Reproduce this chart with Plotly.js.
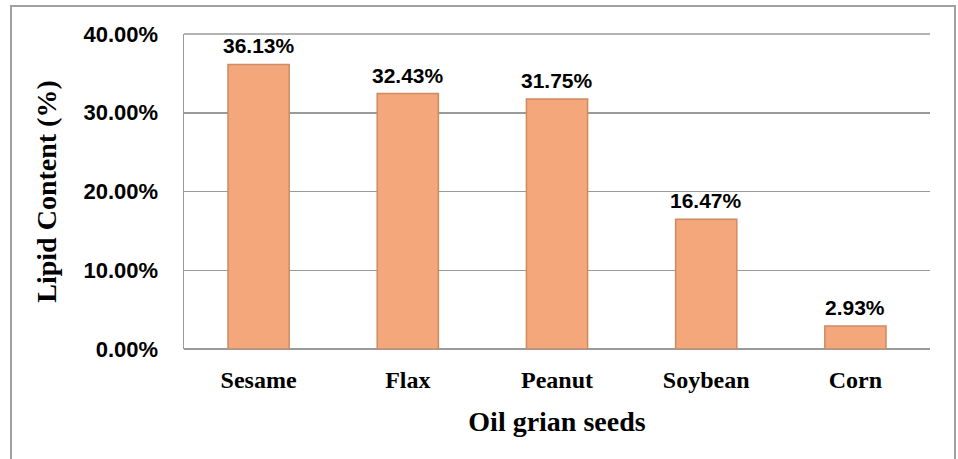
<!DOCTYPE html>
<html>
<head>
<meta charset="utf-8">
<script src="https://cdn.plot.ly/plotly-3.0.1.min.js"></script>
<style>html,body{margin:0;padding:0;background:#fff;}#chart{width:958px;height:459px;}</style>
</head>
<body>
<div id="chart"></div>
<script>
const categories = ["Sesame", "Flax", "Peanut", "Soybean", "Corn"];
const lipidContent = [0.3613, 0.3243, 0.3175, 0.1647, 0.0293];
const yTickValues = [0, 0.1, 0.2, 0.3, 0.4];

const sans = "Liberation Sans, Arial, sans-serif";
const serif = "Liberation Serif, Times New Roman, serif";

const trace = {
  type: "bar",
  x: categories,
  y: lipidContent,
  width: 0.41,
  marker: { color: "#F3A77B", line: { color: "#CF8A62", width: 1.5 } },
  cliponaxis: false,
  hoverinfo: "skip"
};

const labels = categories.map((c, i) => ({
  x: c, y: lipidContent[i], xref: "x", yref: "y",
  text: (lipidContent[i] * 100).toFixed(2) + "%",
  showarrow: false, yanchor: "bottom", yshift: 5,
  font: { family: sans, size: 21, color: "#000", weight: "bold" }
}));

const layout = {
  width: 958, height: 459,
  margin: { l: 184, r: 28, t: 34, b: 110 },
  paper_bgcolor: "#fff", plot_bgcolor: "#fff",
  showlegend: false,
  xaxis: {
    showgrid: false, showline: false, zeroline: false,
    tickfont: { family: serif, size: 24, color: "#000", weight: "bold" },
    ticks: "", ticklabelstandoff: 14,
    title: { text: "Oil grian seeds", font: { family: serif, size: 28, color: "#000", weight: "bold" }, standoff: 19 }
  },
  yaxis: {
    range: [0, 0.4], tickvals: yTickValues, tickformat: ".2%",
    showgrid: true, gridcolor: "#9a9a9a", gridwidth: 1.5,
    zeroline: true, zerolinecolor: "#9a9a9a", zerolinewidth: 1.5,
    showline: true, linecolor: "#9a9a9a", linewidth: 1.5,
    ticks: "", ticklabelstandoff: 20,
    tickfont: { family: sans, size: 22, color: "#000", weight: "bold" },
    title: { text: "Lipid Content (%)", font: { family: serif, size: 28, color: "#000", weight: "bold" }, standoff: 18 }
  },
  annotations: labels,
  shapes: [{
    type: "rect", xref: "paper", yref: "paper",
    x0: -0.2319, x1: 1.0335, y0: -0.36, y1: 1.0889,
    line: { color: "#a0a0a0", width: 2 }, fillcolor: "rgba(0,0,0,0)", layer: "below"
  }, {
    type: "line", xref: "paper", yref: "paper",
    x0: 0, x1: 1, y0: 1, y1: 1,
    line: { color: "#9a9a9a", width: 1.5 }
  }]
};

Plotly.newPlot("chart", [trace], layout, { displayModeBar: false, staticPlot: true });
</script>
</body>
</html>
